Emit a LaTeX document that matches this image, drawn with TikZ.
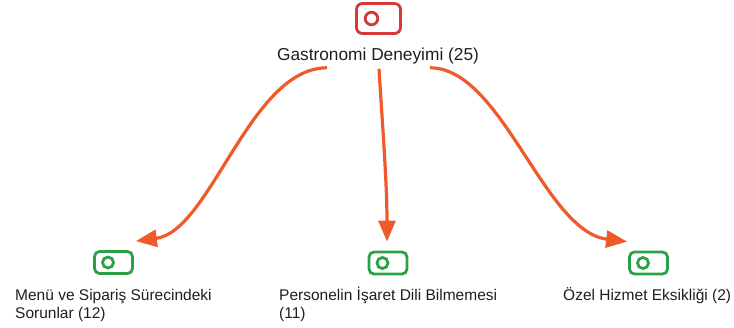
\documentclass[tikz,border=0pt]{standalone}
\usepackage{fontspec}
\setmainfont{Liberation Sans}
\usetikzlibrary{arrows.meta}
\definecolor{iconred}{HTML}{D6383A}
\definecolor{icongreen}{HTML}{2AA147}
\definecolor{arrowc}{HTML}{EE5A2A}
\definecolor{txt}{HTML}{1E1E1E}
\tikzset{
  rooticon/.style={draw=iconred, line width=2.8pt, rounded corners=6pt,
    minimum width=44pt, minimum height=30pt, inner sep=0pt,
    path picture={\draw[iconred, line width=2.8pt]
      ([xshift=15pt]path picture bounding box.west) circle (6.3pt);}},
  leaficon/.style={draw=icongreen, line width=2.8pt, rounded corners=5pt,
    minimum width=38pt, minimum height=22pt, inner sep=0pt,
    path picture={\draw[icongreen, line width=2.8pt]
      ([xshift=13.5pt]path picture bounding box.west) circle (5.5pt);}},
  rootlbl/.style={inner sep=0pt, text=txt, font=\fontsize{17.3}{20}\selectfont},
  leaflbl/.style={inner sep=0pt, text=txt, align=left, anchor=base west,
    font=\fontsize{15.5}{18.5}\selectfont},
  arr/.style={draw=arrowc, line width=3.2pt, -{Triangle[length=21pt,width=17pt]}}
}
\begin{document}
\begin{tikzpicture}[x=1pt,y=-1pt]
\useasboundingbox (0,0) rectangle (734,327);
% root
\node[rooticon] (r) at (378.5,18.5) {};
\node[rootlbl, anchor=base] (rl) at (378,60) {Gastronomi Deneyimi (25)};
% leaves
\node[leaficon] (i1) at (113.5,262.5) {};
\node[leaficon] (i2) at (388,263) {};
\node[leaficon] (i3) at (648.5,263) {};
\node[leaflbl] (l1) at (15,318.5) {Menü ve Sipariş Sürecindeki\\Sorunlar (12)};
\node[leaflbl] (l2) at (279,318.5) {Personelin İşaret Dili Bilmemesi\\(11)};
\node[leaflbl] (l3) at (563,300) {Özel Hizmet Eksikliği (2)};
% connectors
\draw[arr] ([shift={(-51,4)}]rl.south) .. controls +(-77,0) and +(75,-10) .. ([shift={(2,-9)}]i1.north east);
\draw[arr] ([shift={(1,5)}]rl.south) .. controls +(3,50) and +(0,-60) .. ([shift={(-1,-9)}]i2.north);
\draw[arr] ([shift={(52,4)}]rl.south) .. controls +(72,0) and +(-83,-10) .. ([shift={(-1,-9)}]i3.north west);
\end{tikzpicture}
\end{document}
